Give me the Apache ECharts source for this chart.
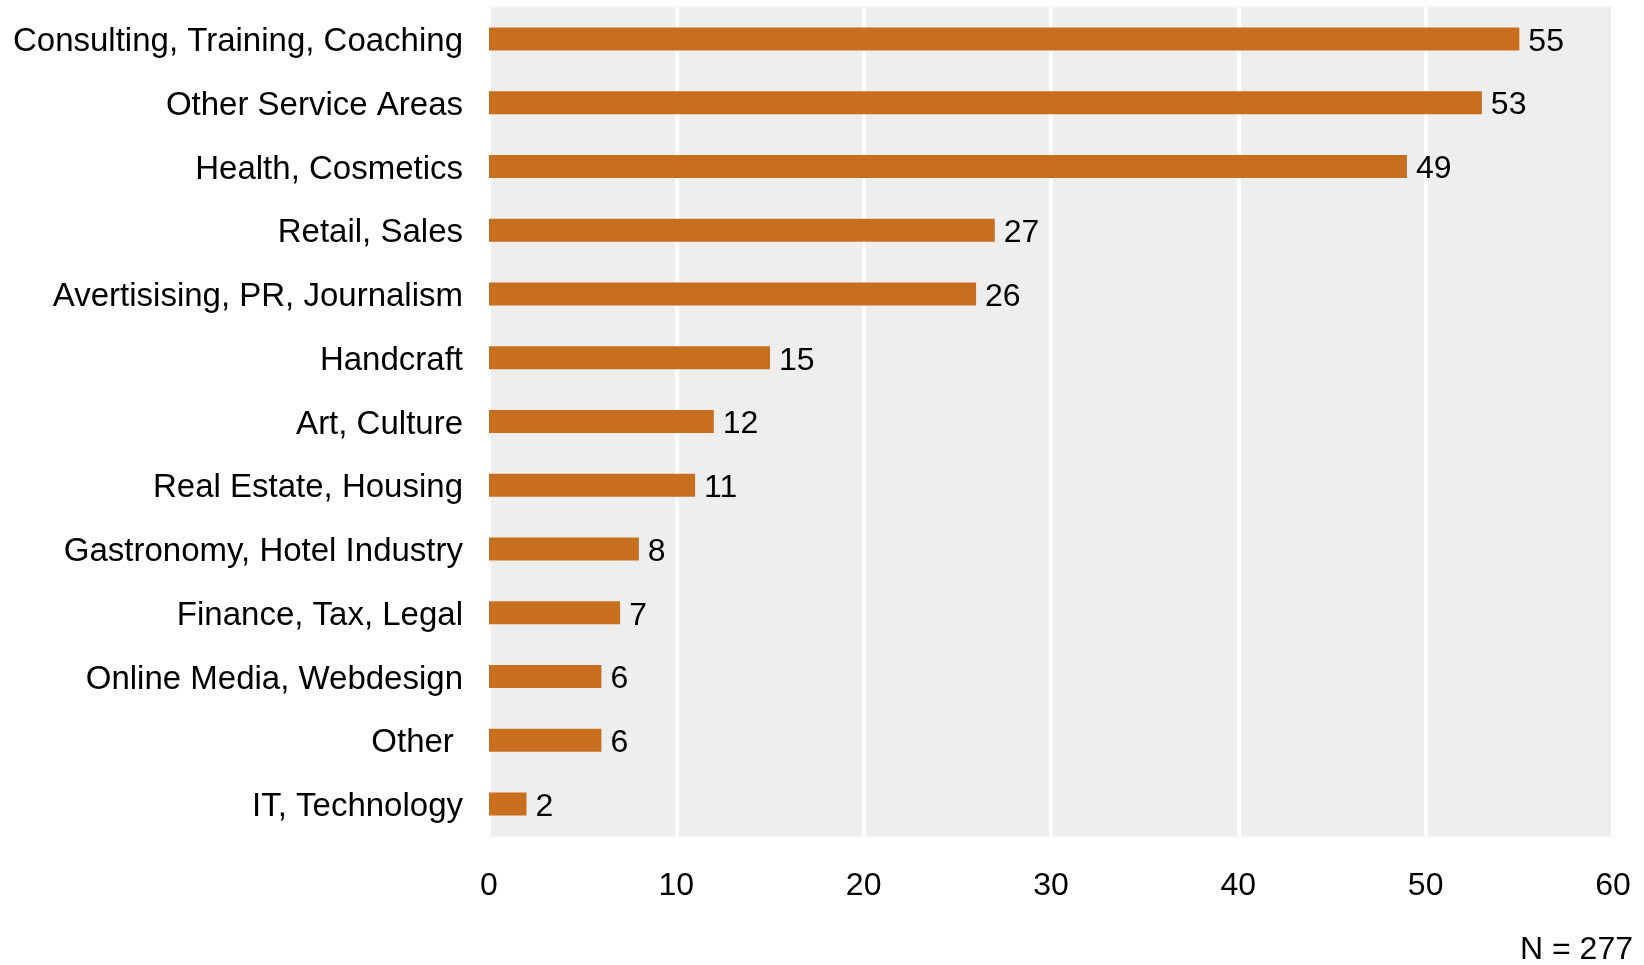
<!DOCTYPE html>
<html>
<head>
<meta charset="utf-8">
<script src="https://cdn.jsdelivr.net/npm/echarts@6/dist/echarts.min.js"></script>
<style>
html, body { margin: 0; padding: 0; background: #ffffff; }
#chart { width: 1644px; height: 965px; }
</style>
</head>
<body>
<div id="chart"></div>
<script>
const categories = [
  "Consulting, Training, Coaching",
  "Other Service Areas",
  "Health, Cosmetics",
  "Retail, Sales",
  "Avertisising, PR, Journalism",
  "Handcraft",
  "Art, Culture",
  "Real Estate, Housing",
  "Gastronomy, Hotel Industry",
  "Finance, Tax, Legal",
  "Online Media, Webdesign",
  "Other ",
  "IT, Technology"
];
const values = [55, 53, 49, 27, 26, 15, 12, 11, 8, 7, 6, 6, 2];
const xTicks = [0, 10, 20, 30, 40, 50, 60];
const noteText = "N = 277";

const FONT = "'Liberation Sans', Arial, sans-serif";
const chart = echarts.init(document.getElementById('chart'), null, { renderer: 'canvas' });
chart.setOption({
  animation: false,
  backgroundColor: '#ffffff',
  grid: {
    left: 489, right: 31, top: 7, bottom: 129,
    show: true, backgroundColor: '#eeeeee', borderColor: '#f3f3f3', borderWidth: 2
  },
  xAxis: {
    type: 'value',
    min: xTicks[0], max: xTicks[xTicks.length - 1], interval: 10,
    axisLine: { show: false },
    axisTick: { show: false },
    axisLabel: { fontSize: 32, color: '#000', fontFamily: FONT, margin: 34 },
    splitLine: { show: true, lineStyle: { color: '#ffffff', width: 4 } }
  },
  yAxis: {
    type: 'category',
    inverse: true,
    data: categories,
    axisLine: { show: false },
    axisTick: { show: false },
    axisLabel: {
      fontSize: 33, color: '#000', fontFamily: FONT, margin: 26,
      verticalAlign: 'top', lineHeight: 6
    }
  },
  series: [{
    type: 'bar',
    data: values,
    barWidth: 23,
    itemStyle: { color: '#C76E1F' },
    label: {
      show: true, position: 'right', distance: 9, offset: [0, 3],
      fontSize: 32, color: '#000', fontFamily: FONT
    }
  }],
  graphic: [{
    type: 'text',
    right: 11,
    top: 934,
    style: { text: noteText, fontSize: 32, fill: '#000', font: '32px ' + FONT }
  }]
});
</script>
</body>
</html>
